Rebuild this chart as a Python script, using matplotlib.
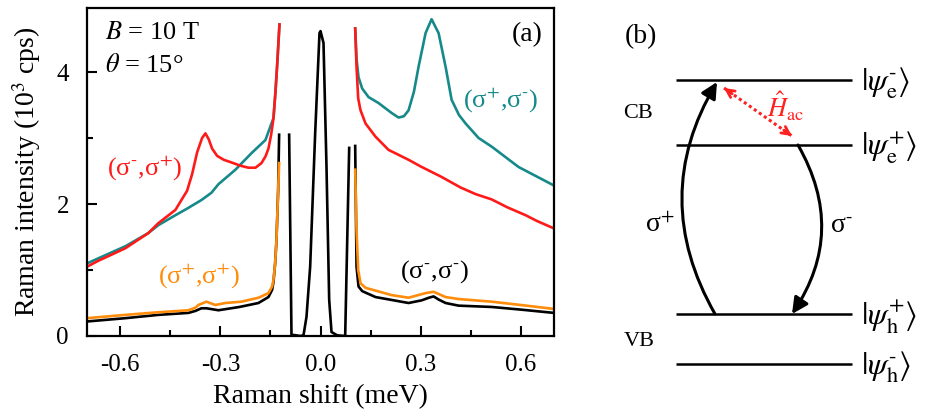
import numpy as np
import matplotlib
matplotlib.use("Agg")
import matplotlib.pyplot as plt

plt.rcParams["font.family"] = ["Liberation Serif", "DejaVu Serif"]
plt.rcParams["mathtext.fontset"] = "stix"

# ---------------- Raman spectra (Raman shift in meV, intensity in 10^3 cps) ----------------
# (sigma-, sigma+) : red
red_left_x = [-0.70, -0.666, -0.585, -0.516, -0.486, -0.435, -0.417, -0.40, -0.385, -0.37,
              -0.355, -0.345, -0.335, -0.325, -0.31, -0.29, -0.267, -0.24, -0.216, -0.195,
              -0.177, -0.165, -0.156, -0.148, -0.141, -0.135, -0.13, -0.123]
red_left_y = [1.05, 1.14, 1.33, 1.56, 1.71, 1.91, 2.06, 2.20, 2.45, 2.78,
              3.00, 3.07, 2.98, 2.84, 2.73, 2.67, 2.63, 2.58, 2.55, 2.55,
              2.62, 2.72, 2.84, 3.05, 3.30, 3.70, 4.10, 4.72]
red_right_x = [0.104, 0.108, 0.113, 0.12, 0.135, 0.165, 0.204, 0.264, 0.30, 0.363,
               0.42, 0.465, 0.513, 0.56, 0.615, 0.65, 0.70]
red_right_y = [4.66, 4.08, 3.60, 3.42, 3.22, 3.02, 2.82, 2.67, 2.57, 2.41,
               2.25, 2.15, 2.07, 1.95, 1.83, 1.74, 1.63]

# (sigma+, sigma-) : teal
teal_left_x = [-0.70, -0.585, -0.516, -0.486, -0.435, -0.40, -0.357, -0.327, -0.306, -0.255,
               -0.207, -0.186, -0.165, -0.147, -0.141, -0.135, -0.13, -0.123]
teal_left_y = [1.10, 1.36, 1.56, 1.68, 1.83, 1.93, 2.06, 2.17, 2.30, 2.52,
               2.77, 2.87, 2.97, 3.22, 3.30, 3.70, 4.10, 4.72]
teal_right_x = [0.104, 0.108, 0.114, 0.125, 0.144, 0.174, 0.213, 0.234, 0.25, 0.264,
                0.28, 0.294, 0.315, 0.333, 0.354, 0.375, 0.393, 0.415, 0.435, 0.474,
                0.513, 0.594, 0.70]
teal_right_y = [4.66, 4.20, 3.92, 3.75, 3.62, 3.53, 3.38, 3.31, 3.33, 3.42,
                3.70, 4.08, 4.59, 4.80, 4.59, 4.08, 3.58, 3.35, 3.22, 3.00,
                2.87, 2.56, 2.28]

# (sigma+, sigma+) : orange
orange_left_x = [-0.70, -0.585, -0.486, -0.396, -0.375, -0.366, -0.342, -0.315, -0.285, -0.237,
                 -0.186, -0.156, -0.145, -0.141, -0.136, -0.132, -0.127, -0.124]
orange_left_y = [0.27, 0.32, 0.36, 0.39, 0.43, 0.47, 0.52, 0.47, 0.50, 0.52,
                 0.58, 0.65, 0.75, 0.85, 1.10, 1.45, 2.20, 2.62]
orange_right_x = [0.104, 0.108, 0.113, 0.12, 0.135, 0.213, 0.264, 0.315, 0.339, 0.375,
                  0.414, 0.513, 0.60, 0.70]
orange_right_y = [2.52, 1.60, 1.00, 0.80, 0.73, 0.62, 0.58, 0.65, 0.67, 0.59,
                  0.56, 0.52, 0.47, 0.41]

# (sigma-, sigma-) : black, including the laser line around zero shift
black_left_x = [-0.70, -0.585, -0.486, -0.396, -0.375, -0.357, -0.342, -0.306, -0.243, -0.186,
                -0.156, -0.145, -0.141, -0.136, -0.132, -0.127, -0.124]
black_left_y = [0.22, 0.27, 0.32, 0.35, 0.38, 0.42, 0.42, 0.39, 0.44, 0.50,
                0.59, 0.70, 0.82, 1.10, 1.45, 2.20, 3.05]
black_mid_x = [-0.094, -0.087, -0.06, -0.051, -0.042, -0.031, -0.016, -0.003, 0.0, 0.009,
               0.018, 0.026, 0.033, 0.05, 0.074, 0.086]
black_mid_y = [3.05, 0.02, 0.0, 0.01, 0.29, 1.05, 3.07, 4.59, 4.62, 4.44,
               2.56, 0.55, 0.06, 0.01, 0.0, 2.85]
black_right_x = [0.104, 0.108, 0.114, 0.125, 0.165, 0.264, 0.303, 0.325, 0.339, 0.355,
                 0.375, 0.414, 0.513, 0.60, 0.70]
black_right_y = [2.88, 1.05, 0.75, 0.68, 0.59, 0.50, 0.54, 0.58, 0.60, 0.55,
                 0.50, 0.46, 0.44, 0.40, 0.35]

x_ticks = [-0.6, -0.3, 0.0, 0.3, 0.6]
x_tick_labels = ["-0.6", "-0.3", "0.0", "0.3", "0.6"]
y_ticks = [0, 2, 4]

RED = "#ff1a1a"
TEAL = "#168a8a"
ORANGE = "#ff8c0a"
BLACK = "#000000"

# short hyphen-style signs used as superscripts
SUP_M = r"^{\text{-}}"
SUP_P = r"^{+}"


def pol(a, b):
    return r"(σ$" + a + r"$,σ$" + b + r"$)"


fig = plt.figure(figsize=(9.26, 4.12), dpi=100)

# ---------------- panel (a) ----------------
ax = fig.add_axes([87 / 926, 1 - 336 / 412, 467 / 926, 328 / 412])
lw = 1.9
ax.plot(teal_left_x, teal_left_y, color=TEAL, lw=lw)
ax.plot(teal_right_x, teal_right_y, color=TEAL, lw=lw)
ax.plot(red_left_x, red_left_y, color=RED, lw=lw)
ax.plot(red_right_x, red_right_y, color=RED, lw=lw)
ax.plot(black_left_x, black_left_y, color=BLACK, lw=lw)
ax.plot(black_mid_x, black_mid_y, color=BLACK, lw=lw)
ax.plot(black_right_x, black_right_y, color=BLACK, lw=lw)
ax.plot(orange_left_x, orange_left_y, color=ORANGE, lw=lw)
ax.plot(orange_right_x, orange_right_y, color=ORANGE, lw=lw)

ax.set_xlim(-0.7, 0.7)
ax.set_ylim(0, 4.97)
ax.set_xticks(x_ticks)
ax.set_xticklabels(x_tick_labels)
ax.set_yticks(y_ticks)
ax.set_xticks(np.arange(-0.6, 0.61, 0.15), minor=True)
ax.set_yticks([1, 3], minor=True)
ax.tick_params(which="both", direction="in", top=False, right=False,
               labelsize=18, width=1.5)
ax.tick_params(axis="x", pad=13)
ax.tick_params(axis="y", pad=13)
ax.tick_params(which="major", length=7)
ax.tick_params(which="minor", length=4)
for s in ax.spines.values():
    s.set_linewidth(1.6)

ax.set_xlabel("Raman shift (meV)", fontsize=20, labelpad=6)
ax.set_ylabel(r"Raman intensity (10$^{3}$ cps)", fontsize=20, labelpad=10)

txt = dict(fontsize=19, va="center")
ax.text(-0.645, 4.59, r"$B$ = 10 T", ha="left", **txt)
ax.text(-0.645, 4.10, r"$\theta$ = 15°", ha="left", **txt)
ax.text(0.665, 4.56, "(a)", ha="right", fontsize=20, va="center")
ax.text(-0.528, 2.55, pol(SUP_M, SUP_P), ha="center", color=RED, **txt)
ax.text(0.54, 3.58, pol(SUP_P, SUP_M), ha="center", color=TEAL, **txt)
ax.text(-0.363, 0.92, pol(SUP_P, SUP_P), ha="center", color=ORANGE, **txt)
ax.text(0.343, 0.97, pol(SUP_M, SUP_M), ha="center", color=BLACK, **txt)

# ---------------- panel (b): level scheme ----------------
bx = fig.add_axes([600 / 926, 0, 326 / 926, 1])
bx.set_xlim(0, 326)
bx.set_ylim(0, 412)
bx.axis("off")

level_names = [r"$|\psi_{\rm e}" + SUP_M + r"\rangle$", r"$|\psi_{\rm e}^{+}\rangle$",
               r"$|\psi_{\rm h}^{+}\rangle$", r"$|\psi_{\rm h}" + SUP_M + r"\rangle$"]
level_heights = [332, 267, 98, 48]
level_span = (76, 252)

for name, h in zip(level_names, level_heights):
    bx.plot(level_span, [h, h], color="black", lw=1.8, solid_capstyle="butt")
    bx.text(level_span[1] + 9, h - 3, name, fontsize=23, ha="left", va="center")

bx.text(41, 375, "(b)", fontsize=20, ha="center", va="center")
bx.text(38, 299, "CB", fontsize=16, ha="center", va="center")
bx.text(39, 70, "VB", fontsize=16, ha="center", va="center")

# optical transitions
bx.annotate("", xy=(117, 330), xytext=(115, level_heights[2]),
            arrowprops=dict(arrowstyle="-|>", color="black", lw=2.2,
                            mutation_scale=24, shrinkA=0, shrinkB=0,
                            connectionstyle="arc3,rad=-0.29"))
bx.annotate("", xy=(192, level_heights[2]), xytext=(198, level_heights[1]),
            arrowprops=dict(arrowstyle="-|>", color="black", lw=2.2,
                            mutation_scale=24, shrinkA=0, shrinkB=0,
                            connectionstyle="arc3,rad=-0.31"))
bx.text(60, 187, r"σ$^{+}$", fontsize=20, ha="center", va="center")
bx.text(241, 187, r"σ$" + SUP_M + "$", fontsize=20, ha="center", va="center")

# acoustic-phonon coupling between the electron levels
hac_a = (124, 324)
hac_b = (192, 276)
bx.plot([hac_a[0], hac_b[0]], [hac_a[1], hac_b[1]], color="#ff2020", lw=2.2,
        linestyle=(0, (1, 1)))
for tip, tail in ((hac_a, hac_b), (hac_b, hac_a)):
    d = np.subtract(tip, tail)
    d = d / np.hypot(*d)
    bx.annotate("", xy=tip, xytext=(tip[0] - 10 * d[0], tip[1] - 10 * d[1]),
                arrowprops=dict(arrowstyle="->", color="#ff2020", lw=2.0,
                                mutation_scale=14, shrinkA=0, shrinkB=0))
bx.text(186, 306, r"$\hat{H}_{\rm ac}$", color="#ff2020", fontsize=19,
        ha="center", va="center")

fig.savefig("out.png", dpi=100)
